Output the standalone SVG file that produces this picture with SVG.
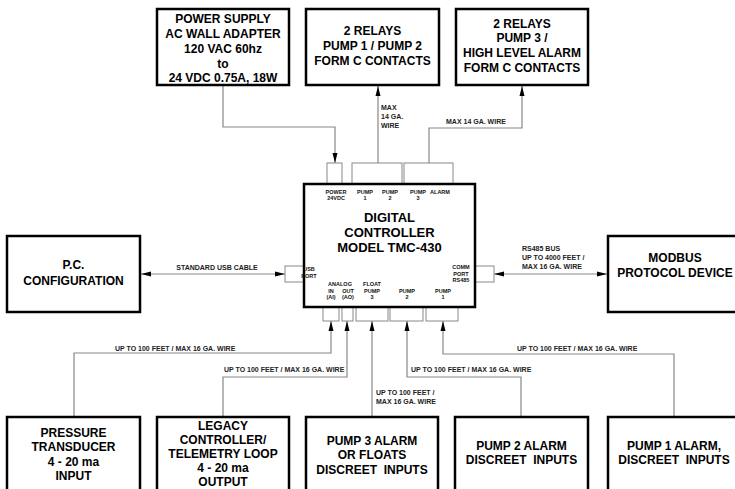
<svg xmlns="http://www.w3.org/2000/svg" width="735" height="489" viewBox="0 0 735 489">
<style>
.box{fill:#fff;stroke:#000;stroke-width:2.5}
.term{fill:#fff;stroke:#888;stroke-width:1}
.wire{fill:none;stroke:#888;stroke-width:1.2}
.t{font-family:"Liberation Sans",Arial,sans-serif;font-weight:bold;font-size:12px;fill:#000;text-anchor:middle}
.big{font-size:13px}
.s{font-family:"Liberation Sans",Arial,sans-serif;font-weight:bold;font-size:5.5px;fill:#111;text-anchor:middle}
.w{font-family:"Liberation Sans",Arial,sans-serif;font-weight:bold;font-size:7px;fill:#222}
</style>
<defs>
<marker id="ah" markerUnits="userSpaceOnUse" markerWidth="11" markerHeight="6" refX="10" refY="3" orient="auto-start-reverse">
<path d="M0,0.5 L10,3 L0,5.5 z" fill="#000"/>
</marker>
</defs>
<rect width="735" height="489" fill="#fff"/>

<g id="connectors">
<path class="wire" d="M223,85 V127 H335 V163" marker-end="url(#ah)"/>
<path class="wire" d="M378,163 V86" marker-end="url(#ah)"/>
<path class="wire" d="M429,163 V128 H522 V86" marker-end="url(#ah)"/>
<path class="wire" d="M141,274 H285" marker-start="url(#ah)" marker-end="url(#ah)"/>
<path class="wire" d="M494,274 H607" marker-start="url(#ah)" marker-end="url(#ah)"/>
<path class="wire" d="M74,417 V353 H331 V321" marker-end="url(#ah)"/>
<path class="wire" d="M223,417 V377 H347 V321" marker-end="url(#ah)"/>
<path class="wire" d="M372,417 V321" marker-end="url(#ah)"/>
<path class="wire" d="M521,417 V377 H407 V321" marker-end="url(#ah)"/>
<path class="wire" d="M674,417 V354 H443 V321" marker-end="url(#ah)"/>
<text class="w" x="381" y="110">MAX</text>
<text class="w" x="381" y="119">14 GA.</text>
<text class="w" x="381" y="128">WIRE</text>
<text class="w" x="446" y="124">MAX 14 GA. WIRE</text>
<text class="w" x="217" y="269.5" text-anchor="middle">STANDARD USB CABLE</text>
<text class="w" x="522" y="251">RS485 BUS</text>
<text class="w" x="522" y="260">UP TO 4000 FEET /</text>
<text class="w" x="522" y="268.5">MAX 16 GA. WIRE</text>
<text class="w" x="115" y="350.5">UP TO 100 FEET / MAX 16 GA. WIRE</text>
<text class="w" x="224" y="371.5">UP TO 100 FEET / MAX 16 GA. WIRE</text>
<text class="w" x="376" y="394.5">UP TO 100 FEET /</text>
<text class="w" x="376" y="404">MAX 16 GA. WIRE</text>
<text class="w" x="411" y="371.5">UP TO 100 FEET / MAX 16 GA. WIRE</text>
<text class="w" x="517" y="350.5">UP TO 100 FEET / MAX 16 GA. WIRE</text>
</g>

<g id="power-supply">
<rect class="box" x="157" y="9" width="132" height="76"/>
<text class="t" x="223" y="23">POWER SUPPLY</text>
<text class="t" x="223" y="38">AC WALL ADAPTER</text>
<text class="t" x="223" y="53">120 VAC 60hz</text>
<text class="t" x="223" y="67.5">to</text>
<text class="t" x="223" y="82">24 VDC 0.75A, 18W</text>
</g>

<g id="relays-1-2">
<rect class="box" x="306" y="9" width="133" height="76"/>
<text class="t" x="372.5" y="35">2 RELAYS</text>
<text class="t" x="372.5" y="50">PUMP 1 / PUMP 2</text>
<text class="t" x="372.5" y="64.5">FORM C CONTACTS</text>
</g>

<g id="relays-3-alarm">
<rect class="box" x="456" y="9" width="132" height="76"/>
<text class="t" x="522" y="28">2 RELAYS</text>
<text class="t" x="522" y="42">PUMP 3 /</text>
<text class="t" x="522" y="56.5">HIGH LEVEL ALARM</text>
<text class="t" x="522" y="72">FORM C CONTACTS</text>
</g>

<g id="controller">
<rect class="term" x="327" y="163" width="15" height="21"/>
<rect class="term" x="352" y="163" width="50" height="21"/>
<rect class="term" x="404" y="163" width="49" height="21"/>
<rect class="term" x="285" y="266" width="19" height="16"/>
<rect class="term" x="475" y="266" width="19" height="16"/>
<rect class="term" x="323" y="307" width="16" height="14"/>
<rect class="term" x="342" y="307" width="11" height="14"/>
<rect class="term" x="356" y="307" width="32" height="14"/>
<rect class="term" x="390" y="307" width="33" height="14"/>
<rect class="term" x="426" y="307" width="32" height="14"/>
<rect class="box" x="304" y="184" width="171" height="123" stroke-width="3"/>
<text class="s" x="336" y="194">POWER</text>
<text class="s" x="336" y="200">24VDC</text>
<text class="s" x="365" y="194">PUMP</text>
<text class="s" x="365" y="200">1</text>
<text class="s" x="390" y="194">PUMP</text>
<text class="s" x="390" y="200">2</text>
<text class="s" x="418" y="194">PUMP</text>
<text class="s" x="418" y="200">3</text>
<text class="s" x="440" y="194">ALARM</text>
<text class="t big" x="389.5" y="221.5">DIGITAL</text>
<text class="t big" x="389.5" y="236.5">CONTROLLER</text>
<text class="t big" x="389.5" y="251.5">MODEL TMC-430</text>
<text class="s" x="309" y="271" text-anchor="start">USB</text>
<text class="s" x="309" y="277.5" text-anchor="start">PORT</text>
<text class="s" x="461" y="269">COMM</text>
<text class="s" x="461" y="275.5">PORT</text>
<text class="s" x="461" y="282">RS485</text>
<text class="s" x="340" y="286">ANALOG</text>
<text class="s" x="331" y="292.5">IN</text>
<text class="s" x="331" y="299">(AI)</text>
<text class="s" x="348" y="292.5">OUT</text>
<text class="s" x="348" y="299">(AO)</text>
<text class="s" x="372" y="286">FLOAT</text>
<text class="s" x="372" y="292.5">PUMP</text>
<text class="s" x="372" y="299">3</text>
<text class="s" x="407" y="292.5">PUMP</text>
<text class="s" x="407" y="299">2</text>
<text class="s" x="443" y="292.5">PUMP</text>
<text class="s" x="443" y="299">1</text>
</g>

<g id="pc-configuration">
<rect class="box" x="7" y="236" width="133" height="76"/>
<text class="t" x="73.5" y="268.5">P.C.</text>
<text class="t" x="73.5" y="285">CONFIGURATION</text>
</g>

<g id="modbus-device">
<rect class="box" x="608" y="236" width="135" height="76"/>
<text class="t" x="675" y="261.5">MODBUS</text>
<text class="t" x="675" y="276.5">PROTOCOL DEVICE</text>
</g>

<g id="pressure-transducer">
<rect class="box" x="7" y="417" width="133" height="80"/>
<text class="t" x="73.5" y="436.5">PRESSURE</text>
<text class="t" x="73.5" y="450.5">TRANSDUCER</text>
<text class="t" x="73.5" y="465.5">4 - 20 ma</text>
<text class="t" x="73.5" y="479.5">INPUT</text>
</g>

<g id="legacy-controller">
<rect class="box" x="157" y="417" width="132" height="80"/>
<text class="t" x="223" y="430">LEGACY</text>
<text class="t" x="223" y="444">CONTROLLER/</text>
<text class="t" x="223" y="458">TELEMETRY LOOP</text>
<text class="t" x="223" y="472">4 - 20 ma</text>
<text class="t" x="223" y="486">OUTPUT</text>
</g>

<g id="pump3-alarm">
<rect class="box" x="306" y="417" width="132" height="80"/>
<text class="t" x="372" y="444.5">PUMP 3 ALARM</text>
<text class="t" x="372" y="459">OR FLOATS</text>
<text class="t" x="372" y="473.5" xml:space="preserve">DISCREET  INPUTS</text>
</g>

<g id="pump2-alarm">
<rect class="box" x="455" y="417" width="133" height="80"/>
<text class="t" x="521.5" y="450">PUMP 2 ALARM</text>
<text class="t" x="521.5" y="464" xml:space="preserve">DISCREET  INPUTS</text>
</g>

<g id="pump1-alarm">
<rect class="box" x="608" y="417" width="135" height="80"/>
<text class="t" x="674" y="450">PUMP 1 ALARM,</text>
<text class="t" x="674" y="464" xml:space="preserve">DISCREET  INPUTS</text>
</g>
</svg>
